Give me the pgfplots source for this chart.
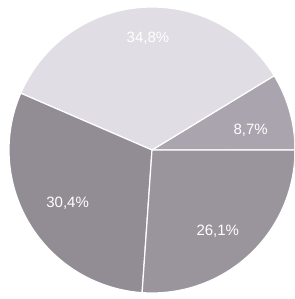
\documentclass[border=0pt]{standalone}
\usepackage{pgfplots}
\pgfplotsset{compat=1.18}
\usepackage{fontspec}
\setmainfont{Liberation Sans}
\definecolor{cA}{HTML}{A9A4AD}
\definecolor{cB}{HTML}{E0DDE4}
\definecolor{cC}{HTML}{928D95}
\definecolor{cD}{HTML}{9A959D}
\begin{document}
\begin{tikzpicture}
\begin{axis}[
  width=294pt, height=299pt, scale only axis,
  axis line style={draw=none}, xtick=\empty, ytick=\empty,
  xmin=-1.063, xmax=0.993, ymin=-1.042, ymax=1.049,
  clip=true,
]
\path (rel axis cs:0,0) rectangle (rel axis cs:1,1);
% slices (percent): 8.7, 34.8, 30.4, 26.1 -> angles 0, 31.32, 156.6, 266.04, 360
\addplot[fill=cA, draw=white, line width=1.2pt, domain=0:31.32, samples=30, variable=\t] ({cos(t)},{sin(t)}) -- (axis cs:0,0) -- cycle;
\addplot[fill=cB, draw=white, line width=1.2pt, domain=31.32:156.6, samples=80, variable=\t] ({cos(t)},{sin(t)}) -- (axis cs:0,0) -- cycle;
\addplot[fill=cC, draw=white, line width=1.2pt, domain=156.6:266.04, samples=80, variable=\t] ({cos(t)},{sin(t)}) -- (axis cs:0,0) -- cycle;
\addplot[fill=cD, draw=white, line width=1.2pt, domain=266.04:360, samples=70, variable=\t] ({cos(t)},{sin(t)}) -- (axis cs:0,0) -- cycle;
\node[text=white, font=\fontsize{15}{15}\selectfont] at (axis cs:-0.028,0.78) {34,8\%};
\node[text=white, font=\fontsize{15}{15}\selectfont] at (axis cs:0.69,0.14) {8,7\%};
\node[text=white, font=\fontsize{15}{15}\selectfont] at (axis cs:-0.59,-0.37) {30,4\%};
\node[text=white, font=\fontsize{15}{15}\selectfont] at (axis cs:0.46,-0.57) {26,1\%};
\end{axis}
\end{tikzpicture}
\end{document}
